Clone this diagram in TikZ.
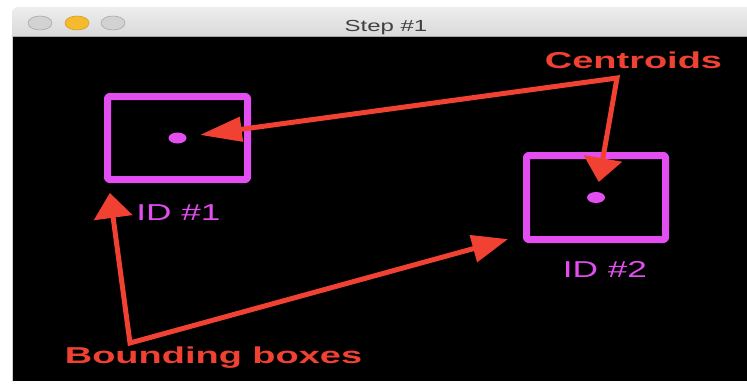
\documentclass[tikz,border=0pt]{standalone}
\usepackage{fontspec}
\setmainfont{Liberation Sans}
\newfontfamily\titlefont[FakeStretch=1.5]{Liberation Sans}
\newfontfamily\idfont[FakeStretch=1.53]{Liberation Sans}
\newfontfamily\calloutfont[FakeStretch=1.65]{Liberation Sans}
\usetikzlibrary{arrows.meta}
\usetikzlibrary{positioning}
\usetikzlibrary{shapes.geometric}

\definecolor{boxpink}{RGB}{226,78,240}
\definecolor{calloutred}{RGB}{240,65,50}
\definecolor{barlight}{RGB}{238,238,238}
\definecolor{bardark}{RGB}{214,214,214}
\definecolor{lampgray}{RGB}{210,210,210}
\definecolor{lampyellow}{RGB}{245,187,45}
\definecolor{titlegray}{RGB}{64,64,64}

\tikzset{
  trackbox/.style={draw=boxpink,line width=7pt,rounded corners=2pt,inner sep=0pt},
  centroid/.style={ellipse,fill=boxpink,minimum width=18pt,minimum height=11pt,inner sep=0pt},
  idlabel/.style={text=boxpink,font=\idfont\fontsize{23}{23}\selectfont,inner sep=0pt,anchor=base},
  callout/.style={draw=calloutred,line width=5pt,line join=miter,line cap=butt},
  callouttext/.style={text=calloutred,font=\calloutfont\bfseries\fontsize{23}{23}\selectfont,inner sep=0pt,anchor=base},
  lamp/.style={ellipse,minimum width=24pt,minimum height=14pt,inner sep=0pt,draw=lampgray!80!black,line width=0.6pt}
}

\begin{document}
\begin{tikzpicture}[line cap=round,line join=round,x=1pt,y=-1pt]
\useasboundingbox (0,0) rectangle (747,383);
\fill [white] (0,0) rectangle (747,383);
% window: title bar and black canvas
\shade [top color=barlight,bottom color=bardark,rounded corners=6pt] (12,7) rectangle (760,40);
\fill [black] (12,36) rectangle (747,381);
\draw [gray!70,line width=0.8pt] (12,36) -- (747,36);
\draw [gray!40,line width=1pt] (12,36) -- (12,381);
\node[lamp,fill=lampgray] (close) at (40,23) {};
\node[lamp,fill=lampyellow,draw=lampyellow!85!black] (mini) at (77,23) {};
\node[lamp,fill=lampgray] (zoom) at (113,23) {};
\node[text=titlegray,font=\titlefont\fontsize{16}{16}\selectfont,inner sep=0pt,anchor=base] (title) at (386,31.5) {Step \#1};
% tracked objects
\node[trackbox,minimum width=140pt,minimum height=83pt] (box1) at (177.5,138) {};
\node[trackbox,minimum width=139pt,minimum height=84pt] (box2) at (596,197.5) {};
\node[centroid] (c1) at (box1.center) {};
\node[centroid] (c2) at (box2.center) {};
\node[idlabel] (id1) at (178.5,220) {ID \#1};
\node[idlabel] (id2) at (605,277) {ID \#2};
% callouts
\node[callouttext] (centtext) at (633.5,68.5) {Centroids};
\node[callouttext] (bbtext) at (213.5,363) {Bounding boxes};
\coordinate (cjoin) at (617,78);
\coordinate (bjoin) at (130,343);
\draw [callout,{Triangle[length=42pt,width=24pt]}-{Triangle[length=24pt,width=38pt]},shorten <=13.5pt,shorten >=10pt] (c1) -- (cjoin) -- (c2);
\draw [callout,{Triangle[length=25pt,width=38pt]}-{Triangle[length=36pt,width=27pt]},shorten <=10pt,shorten >=15.5pt] ([xshift=4.5pt]box1.south west) -- (bjoin) -- ([yshift=8pt]box2.south west);
\end{tikzpicture}
\end{document}
